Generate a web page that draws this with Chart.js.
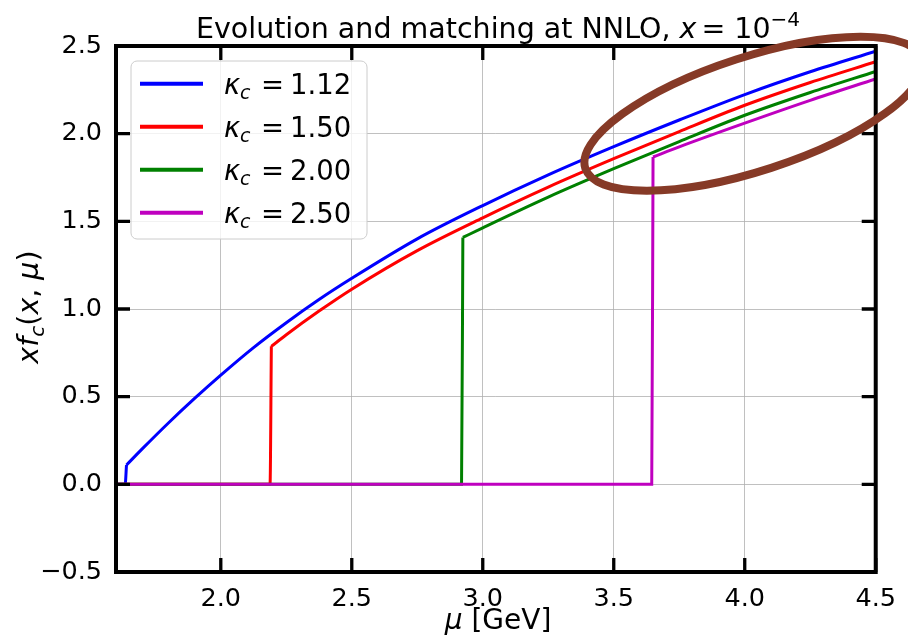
<!DOCTYPE html>
<html>
<head>
<meta charset="utf-8">
<script src="https://cdn.jsdelivr.net/npm/chart.js@4.4.1/dist/chart.umd.min.js"></script>
<style>
  html, body { margin: 0; padding: 0; background: #fff; }
  canvas { display: block; }
</style>
</head>
<body>
<canvas id="pdfChart" width="908" height="636"></canvas>
<script>
// valeurs
const kappaLabels = ["1.12", "1.50", "2.00", "2.50"];
const seriesColors = ["#0000ff", "#ff0000", "#008000", "#bf00bf"];

const mu112 = [1.60, 1.635, 1.64, 1.70, 1.80, 1.90, 2.00, 2.125, 2.25, 2.375, 2.50, 2.75, 3.00, 3.25, 3.50, 3.75, 4.00, 4.25, 4.50];
const xf112 = [0, 0, 0.11, 0.202, 0.35, 0.49, 0.623, 0.78, 0.922, 1.054, 1.175, 1.40, 1.59, 1.765, 1.926, 2.078, 2.223, 2.353, 2.47];

const mu150 = [1.60, 2.188, 2.193, 2.25, 2.375, 2.50, 2.75, 3.00, 3.25, 3.50, 3.75, 4.00, 4.25, 4.50];
const xf150 = [0, 0, 0.787, 0.853, 0.988, 1.113, 1.333, 1.52, 1.695, 1.857, 2.012, 2.162, 2.292, 2.41];

const mu200 = [1.60, 2.919, 2.924, 3.00, 3.25, 3.50, 3.75, 4.00, 4.25, 4.50];
const xf200 = [0, 0, 1.408, 1.463, 1.638, 1.80, 1.955, 2.105, 2.235, 2.355];

const mu250 = [1.60, 3.645, 3.650, 3.75, 4.00, 4.25, 4.50];
const xf250 = [0, 0, 1.867, 1.925, 2.06, 2.19, 2.312];

const xTicks = [2.0, 2.5, 3.0, 3.5, 4.0, 4.5];
const yTicks = [-0.5, 0.0, 0.5, 1.0, 1.5, 2.0, 2.5];

const FONT = "'DejaVu Sans', sans-serif";

// le saut au seuil est coupé en deux morceaux pour que la courbe lissée
// ne s'aplatisse pas juste après la marche
const toPoints = (xs, ys) => {
  const pts = xs.map((x, i) => ({ x: x, y: ys[i] }));
  const k = ys.findIndex((v) => v > 0);
  return [...pts.slice(0, k + 1), { x: xs[k], y: null }, ...pts.slice(k)];
};
const allSeries = [
  toPoints(mu112, xf112),
  toPoints(mu150, xf150),
  toPoints(mu200, xf200),
  toPoints(mu250, xf250),
];

// dessine une suite de morceaux de texte (italique, indice, exposant)
const drawPieces = (ctx, pieces, x, y, align) => {
  const widths = pieces.map((p) => {
    ctx.font = `${p.italic ? "italic " : ""}${p.size}px ${FONT}`;
    return ctx.measureText(p.t).width + (p.gap || 0);
  });
  const total = widths.reduce((a, b) => a + b, 0);
  let cx = align === "center" ? x - total / 2 : x;
  pieces.forEach((p, i) => {
    ctx.font = `${p.italic ? "italic " : ""}${p.size}px ${FONT}`;
    ctx.fillText(p.t, cx, y + (p.dy || 0));
    cx += widths[i];
  });
};

const overlay = {
  id: "overlay",
  afterDatasetsDraw(chart) {
    const { ctx, chartArea: a, scales } = chart;
    ctx.save();
    // ticks vers l'intérieur sur les 4 côtés
    ctx.strokeStyle = "#000";
    ctx.lineWidth = 3.3;
    xTicks.forEach((v) => {
      const px = scales.x.getPixelForValue(v);
      ctx.beginPath();
      ctx.moveTo(px, a.bottom); ctx.lineTo(px, a.bottom - 14);
      ctx.moveTo(px, a.top); ctx.lineTo(px, a.top + 14);
      ctx.stroke();
    });
    yTicks.forEach((v) => {
      const py = scales.y.getPixelForValue(v);
      ctx.beginPath();
      ctx.moveTo(a.left, py); ctx.lineTo(a.left + 14, py);
      ctx.moveTo(a.right, py); ctx.lineTo(a.right - 14, py);
      ctx.stroke();
    });
    // cadre
    ctx.lineWidth = 4;
    ctx.strokeRect(a.left, a.top, a.right - a.left, a.bottom - a.top);

    // légende
    ctx.beginPath();
    ctx.roundRect(131, 61, 236, 178, 6);
    ctx.fillStyle = "rgba(255,255,255,0.8)";
    ctx.fill();
    ctx.lineWidth = 1;
    ctx.strokeStyle = "#cccccc";
    ctx.stroke();
    kappaLabels.forEach((lab, i) => {
      const ly = 83.7 + 43 * i;
      ctx.beginPath();
      ctx.strokeStyle = seriesColors[i];
      ctx.lineWidth = 4;
      ctx.moveTo(140, ly);
      ctx.lineTo(203, ly);
      ctx.stroke();
      ctx.fillStyle = "#000";
      ctx.textAlign = "left";
      ctx.textBaseline = "alphabetic";
      ctx.font = `italic 27.5px ${FONT}`;
      ctx.fillText("\u03ba", 224, ly + 9.8);
      ctx.font = `italic 19px ${FONT}`;
      ctx.fillText("c", 240, ly + 15.6);
      ctx.font = `27.5px ${FONT}`;
      ctx.fillText("=", 261, ly + 9.8);
      ctx.fillText(lab, 290, ly + 9.8);
    });
    ctx.restore();
  },
  afterDraw(chart) {
    const { ctx, scales } = chart;
    ctx.save();
    ctx.fillStyle = "#000";
    ctx.textBaseline = "alphabetic";
    ctx.textAlign = "left";
    // titre
    drawPieces(ctx, [
      { t: "Evolution and matching at NNLO, ", size: 28.5 },
      { t: "x", size: 28.5, italic: true, gap: 5 },
      { t: "= 10", size: 28.5 },
      { t: "\u22124", size: 20, dy: -12 },
    ], 498, 38, "center");
    // titre axe x
    drawPieces(ctx, [
      { t: "\u03bc", size: 28, italic: true },
      { t: " [GeV]", size: 28 },
    ], 498, 629, "center");
    // titre axe y
    ctx.translate(38, 307);
    ctx.rotate(-Math.PI / 2);
    drawPieces(ctx, [
      { t: "xf", size: 28.5, italic: true },
      { t: "c", size: 20, italic: true, dy: 6 },
      { t: "(", size: 28.5 },
      { t: "x", size: 28.5, italic: true },
      { t: ", ", size: 28.5 },
      { t: "\u03bc", size: 28.5, italic: true },
      { t: ")", size: 28.5 },
    ], 0, 0, "center");
    ctx.restore();

    // ellipse brune dessinée à la main
    ctx.save();
    const ex = scales.x.getPixelForValue(4.034);
    const ey = scales.y.getPixelForValue(2.114);
    ctx.beginPath();
    ctx.ellipse(ex, ey, 177, 57, -18 * Math.PI / 180, 0, 2 * Math.PI);
    ctx.strokeStyle = "#863a27";
    ctx.lineWidth = 8;
    ctx.stroke();
    ctx.restore();
  },
};

const datasets = allSeries.map((pts, i) => ({
  label: "\u03bac = " + kappaLabels[i],
  data: pts,
  borderColor: seriesColors[i],
  backgroundColor: seriesColors[i],
  borderWidth: 3,
  pointRadius: 0,
  fill: false,
  spanGaps: false,
  cubicInterpolationMode: "monotone",
  order: 4 - i,
}));

const config = {
  type: "line",
  data: { datasets: datasets },
  options: {
    responsive: false,
    animation: false,
    devicePixelRatio: 1,
    layout: { padding: { top: 46, right: 22, left: 0, bottom: 0 } },
    plugins: {
      legend: { display: false },
      tooltip: { enabled: false },
      title: { display: false },
    },
    scales: {
      x: {
        type: "linear",
        min: 1.6,
        max: 4.5,
        afterBuildTicks: (s) => { s.ticks = xTicks.map((v) => ({ value: v })); },
        afterFit: (s) => { s.height = 64; },
        grid: { color: "#b0b0b0", lineWidth: 0.8, drawTicks: false },
        border: { display: false },
        ticks: {
          color: "#000",
          font: { family: FONT, size: 25.5 },
          padding: 12,
          maxRotation: 0,
          callback: (v) => v.toFixed(1),
        },
      },
      y: {
        type: "linear",
        min: -0.5,
        max: 2.5,
        afterBuildTicks: (s) => { s.ticks = yTicks.map((v) => ({ value: v })); },
        afterFit: (s) => { s.width = 116; },
        grid: { color: "#b0b0b0", lineWidth: 0.8, drawTicks: false },
        border: { display: false },
        ticks: {
          color: "#000",
          font: { family: FONT, size: 25.5 },
          padding: 14,
          callback: (v) => (v < 0 ? "\u2212" + Math.abs(v).toFixed(1) : v.toFixed(1)),
        },
      },
    },
  },
  plugins: [overlay],
};

const ctx = document.getElementById("pdfChart").getContext("2d");
const pdfChart = new Chart(ctx, config);
</script>
</body>
</html>
